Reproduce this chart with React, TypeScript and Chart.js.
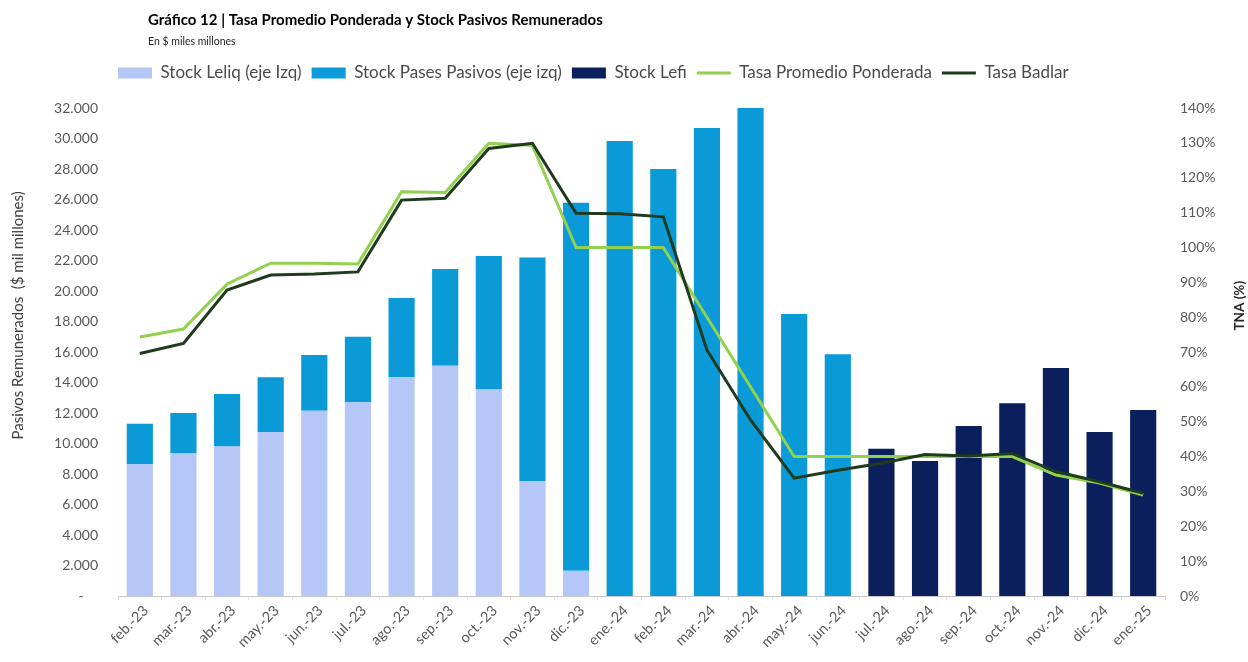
import { useEffect, useRef } from 'react';
import { Chart, registerables } from 'chart.js';

Chart.register(...registerables);

const FONT = 'Lato, "Open Sans", sans-serif';

const TITLE = 'Gráfico 12 | Tasa Promedio Ponderada y Stock Pasivos Remunerados';
const SUBTITLE = 'En $ miles millones';
const LEFT_AXIS_TITLE = 'Pasivos Remunerados  ($ mil millones)';
const RIGHT_AXIS_TITLE = 'TNA (%)';

const MONTHS = [
  'feb.-23', 'mar.-23', 'abr.-23', 'may.-23', 'jun.-23', 'jul.-23', 'ago.-23', 'sep.-23',
  'oct.-23', 'nov.-23', 'dic.-23', 'ene.-24', 'feb.-24', 'mar.-24', 'abr.-24', 'may.-24',
  'jun.-24', 'jul.-24', 'ago.-24', 'sep.-24', 'oct.-24', 'nov.-24', 'dic.-24', 'ene.-25',
];

// Stock Leliq (eje Izq), $ miles de millones
const LELIQ = [8650, 9350, 9800, 10750, 12150, 12700, 14350, 15100, 13550, 7550, 1650,
  null, null, null, null, null, null, null, null, null, null, null, null, null];

// Stock Pases Pasivos (eje izq)
const PASES = [2650, 2650, 3450, 3600, 3650, 4300, 5200, 6350, 8750, 14650, 24150,
  29850, 28000, 30700, 32000, 18500, 15850, null, null, null, null, null, null, null];

// Stock Lefi
const LEFI = [null, null, null, null, null, null, null, null, null, null, null,
  null, null, null, null, null, null, 9650, 8850, 11150, 12650, 14950, 10750, 12200];

// Tasa Promedio Ponderada (%)
const TPP = [74.3, 76.6, 89.5, 95.5, 95.5, 95.3, 116.0, 115.8, 129.9, 129.3, 100, 100,
  100, 80, 60, 40, 40, 40, 40, 40, 40, 34.7, 32.4, 29.0];

// Tasa Badlar (%)
const BADLAR = [69.6, 72.5, 87.8, 92.1, 92.4, 93.0, 113.6, 114.1, 128.4, 129.9, 109.8, 109.7,
  108.8, 70.6, 50.5, 33.8, 36.1, 38.1, 40.6, 40.2, 40.9, 35.7, 32.8, 29.5];

const C_LELIQ = '#b4c7f6';
const C_PASES = '#0a9ad8';
const C_LEFI = '#0b1f5c';
const C_TPP = '#92d050';
const C_BADLAR = '#1f3a1d';

const fmtThousands = (v: number) =>
  v === 0 ? '-    ' : String(v).replace(/\B(?=(\d{3})+(?!\d))/g, '.');

function moveBox(box: any, left: number, top: number) {
  const h = box.height;
  box.left = left;
  box.top = top;
  box.bottom = top + h;
}

const placeBoxes = {
  id: 'placeBoxes',
  afterLayout(chart: any) {
    for (const box of chart.boxes) {
      const o = box.options || {};
      if (box === chart.legend) {
        const p = o.labels.padding;
        moveBox(box, 118 - p, 73 - p - 8.5);
      } else if (o.text === TITLE) {
        moveBox(box, 148, 20 - box.height / 2);
      } else if (o.text === SUBTITLE) {
        moveBox(box, 148, 42 - box.height / 2);
      }
    }
  },
};

const axisTitles = {
  id: 'axisTitles',
  afterDraw(chart: any) {
    const { ctx, chartArea: a } = chart;
    const h = a.bottom - a.top;
    ctx.save();
    ctx.fillStyle = '#404040';
    ctx.textAlign = 'center';
    ctx.textBaseline = 'middle';
    ctx.font = `15px ${FONT}`;
    ctx.translate(a.left - 100, a.top + h * 0.425);
    ctx.rotate(-Math.PI / 2);
    ctx.fillText(LEFT_AXIS_TITLE, 0, 0);
    ctx.restore();

    ctx.save();
    ctx.fillStyle = '#262626';
    ctx.textAlign = 'center';
    ctx.textBaseline = 'middle';
    ctx.font = `bold 13.5px ${FONT}`;
    ctx.translate(a.right + 75, a.top + h * 0.405);
    ctx.rotate(-Math.PI / 2);
    ctx.fillText(RIGHT_AXIS_TITLE, 0, 0);
    ctx.restore();
  },
};

export default function App() {
  const ref = useRef<HTMLCanvasElement>(null);

  useEffect(() => {
    document.body.style.margin = '0';
    const tickFont = { family: FONT, size: 14 };
    const chart = new Chart(ref.current as HTMLCanvasElement, {
      type: 'bar',
      data: {
        labels: MONTHS,
        datasets: [
          { type: 'bar', label: 'Stock Leliq (eje Izq)', data: LELIQ, backgroundColor: C_LELIQ, yAxisID: 'y', stack: 's', order: 2 },
          { type: 'bar', label: 'Stock Pases Pasivos (eje izq)', data: PASES, backgroundColor: C_PASES, yAxisID: 'y', stack: 's', order: 2 },
          { type: 'bar', label: 'Stock Lefi', data: LEFI, backgroundColor: C_LEFI, yAxisID: 'y', stack: 's', order: 2 },
          { type: 'line', label: 'Tasa Promedio Ponderada', data: TPP, borderColor: C_TPP, backgroundColor: C_TPP, borderWidth: 3, pointRadius: 0, tension: 0, yAxisID: 'y1', order: 1 },
          { type: 'line', label: 'Tasa Badlar', data: BADLAR, borderColor: C_BADLAR, backgroundColor: C_BADLAR, borderWidth: 3, pointRadius: 0, tension: 0, yAxisID: 'y1', order: 0 },
        ] as any,
      },
      options: {
        animation: false,
        responsive: false,
        maintainAspectRatio: false,
        categoryPercentage: 0.6,
        barPercentage: 1,
        layout: { padding: { top: 40.5, left: 0, right: 0, bottom: 0 } },
        plugins: {
          tooltip: { enabled: false },
          title: {
            display: true,
            text: TITLE,
            align: 'start',
            color: '#000000',
            font: { family: FONT, size: 15, weight: 'bold' },
            padding: 0,
          },
          subtitle: {
            display: true,
            text: SUBTITLE,
            align: 'start',
            color: '#262626',
            font: { family: FONT, size: 10.5 },
            padding: 0,
          },
          legend: {
            display: true,
            position: 'top',
            align: 'start',
            labels: {
              usePointStyle: true,
              pointStyleWidth: 34,
              boxHeight: 11,
              padding: 10,
              color: '#4a4a4a',
              font: { family: FONT, size: 17 },
              generateLabels: (c: any) =>
                c.data.datasets.map((ds: any, i: number) => {
                  const isLine = ds.type === 'line';
                  return {
                    text: ds.label,
                    fillStyle: ds.backgroundColor,
                    strokeStyle: isLine ? ds.borderColor : ds.backgroundColor,
                    lineWidth: isLine ? 3 : 0,
                    pointStyle: isLine ? 'line' : 'rect',
                    fontColor: '#4a4a4a',
                    hidden: false,
                    datasetIndex: i,
                  };
                }),
            },
          },
        },
        scales: {
          x: {
            stacked: true,
            grid: { display: true, drawOnChartArea: false, drawTicks: true, tickLength: 4, color: '#e3e3e3', offset: true },
            border: { display: true, color: '#c8c8c8' },
            ticks: { autoSkip: false, maxRotation: 45, minRotation: 45, labelOffset: 6, color: '#595959', font: { family: FONT, size: 14.5 }, padding: 2 },
            afterFit: (s: any) => { s.height = 66; },
          },
          y: {
            stacked: true,
            position: 'left',
            min: 0,
            max: 32000,
            grid: { display: false, drawTicks: false },
            border: { display: false },
            ticks: { stepSize: 2000, padding: 20, color: '#595959', font: tickFont, callback: (v: any) => fmtThousands(Number(v)) },
            afterFit: (s: any) => { s.width = 118; },
          },
          y1: {
            position: 'right',
            min: 0,
            max: 140,
            grid: { display: false, drawTicks: false },
            border: { display: false },
            ticks: { stepSize: 10, padding: 15, color: '#595959', font: tickFont, callback: (v: any) => `${v}%` },
            afterFit: (s: any) => { s.width = 83; },
          },
        },
      } as any,
      plugins: [placeBoxes, axisTitles],
    });
    return () => chart.destroy();
  }, []);

  return (
    <div style={{ width: 1248, height: 662 }}>
      <canvas ref={ref} width={1248} height={662} style={{ display: 'block' }} />
    </div>
  );
}
